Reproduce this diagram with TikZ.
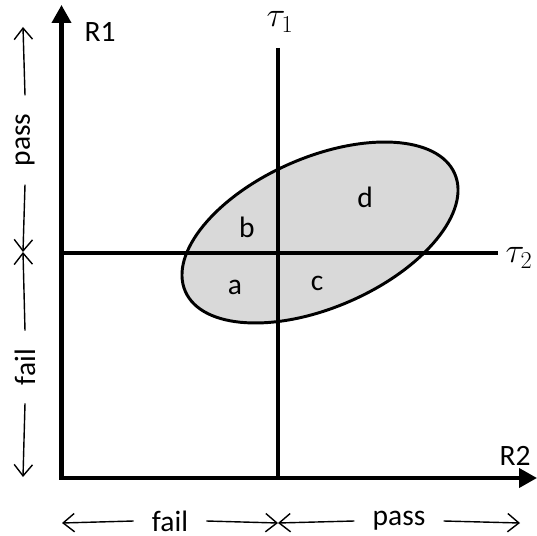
\documentclass[tikz,border=0pt]{standalone}
\usepackage{fontspec}
\setmainfont{Carlito}
\usepackage{tikz}
\usetikzlibrary{arrows.meta, positioning}
\definecolor{mydark}{RGB}{0,0,0}
\definecolor{myfill}{RGB}{217,217,217}
\tikzset{
  axis/.style={draw=mydark, line width=2.85pt, line cap=rect,
    -{Triangle[length=12.8pt, width=13.5pt]}},
  thresh/.style={draw=mydark, line width=2.5pt},
  region/.style={draw=mydark, fill=myfill, line width=2.1pt},
  span/.style={draw=mydark, line width=1pt,
    -{Straight Barb[length=8pt, width=13pt]}},
  lbl/.style={font=\fontsize{21}{25}\selectfont, inner sep=0pt},
  taulbl/.style={font=\fontsize{25}{30}\selectfont, inner sep=0pt},
  spanlbl/.style={font=\fontsize{21}{25}\selectfont, inner xsep=0.45cm, inner ysep=0pt}
}

\begin{document}
\begin{tikzpicture}[x=0.025cm, y=-0.025cm]
  \useasboundingbox (0,0) rectangle (537,536);

  % Joint distribution (ellipse)
  \draw[region, rotate around={23.6:(320,232.5)}] (320,232.5) ellipse [x radius=147, y radius=75];

  % Thresholds
  \coordinate (t1top) at (278,48);
  \coordinate (t1bot) at (278,478);
  \coordinate (t2left) at (61.5,253);
  \coordinate (t2right) at (498,253);
  \draw[thresh] (t1top) -- (t1bot);
  \draw[thresh] (t2left) -- (t2right);
  \node[taulbl] (tau1) at (280,22) {$\tau_1$};
  \node[taulbl] (tau2) at (519,258) {$\tau_2$};

  % Axes
  \coordinate (origin) at (61.5,478);
  \coordinate (ytip) at (61.5,5);
  \coordinate (xtip) at (537,478);
  \draw[axis] (origin) -- (ytip);
  \draw[axis] (origin) -- (xtip);
  \node[lbl] (r1) at (100,32) {R1};
  \node[lbl] (r2) at (515,456) {R2};

  % Quadrants
  \node[lbl] (qa) at (235,287) {a};
  \node[lbl] (qb) at (247,227) {b};
  \node[lbl] (qc) at (317,283) {c};
  \node[lbl] (qd) at (365,197) {d};

  % Pass / fail spans along R1
  \coordinate (ltop) at (23,27);
  \coordinate (lmid) at (23,252);
  \coordinate (lbot) at (23,477);
  \node[spanlbl, rotate=90] (lpass) at (25,140) {pass};
  \node[spanlbl, rotate=90] (lfail) at (25,367) {fail};
  \draw[span] (lpass.east) -- (ltop);
  \draw[span] (lpass.west) -- (lmid);
  \draw[span] (lfail.east) -- (lmid);
  \draw[span] (lfail.west) -- (lbot);

  % Pass / fail spans along R2
  \coordinate (bleft) at (62,523);
  \coordinate (bmid) at (278,523);
  \coordinate (bright) at (520,523);
  \node[spanlbl] (bfail) at (170,521) {fail};
  \node[spanlbl] (bpass) at (399,521) {pass};
  \draw[span] (bfail.west) -- (bleft);
  \draw[span] (bfail.east) -- (bmid);
  \draw[span] (bpass.west) -- (bmid);
  \draw[span] (bpass.east) -- (bright);
\end{tikzpicture}
\end{document}
